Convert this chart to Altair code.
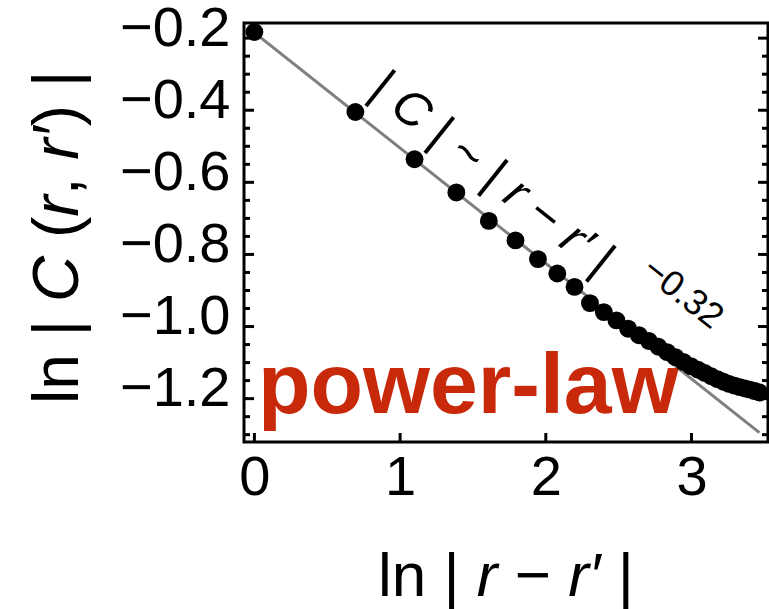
import math
import altair as alt
import pandas as pd

# ln|r - r'| for separations 1..32 and the measured ln|C(r, r')|
sep_ln = [0.000, 0.693, 1.099, 1.386, 1.609, 1.792, 1.946, 2.079, 2.197, 2.303,
          2.398, 2.485, 2.565, 2.639, 2.708, 2.773, 2.833, 2.890, 2.944, 2.996,
          3.045, 3.091, 3.135, 3.178, 3.219, 3.258, 3.296, 3.332, 3.367, 3.401,
          3.434, 3.466]
corr_ln = [-0.183, -0.405, -0.536, -0.628, -0.707, -0.761, -0.813, -0.853, -0.890, -0.935,
           -0.960, -0.983, -1.006, -1.024, -1.040, -1.056, -1.071, -1.085, -1.098, -1.110,
           -1.120, -1.129, -1.138, -1.146, -1.153, -1.159, -1.164, -1.168, -1.172, -1.175,
           -1.179, -1.183]

# power-law fit |C| ~ |r - r'|^-0.32
fit_exponent = -0.32
fit_intercept = -0.185
fit_range = [0.0, 3.466]

x_ticks = [0, 1, 2, 3]
y_ticks = [-1.2, -1.0, -0.8, -0.6, -0.4, -0.2]
y_minor = [-1.30, -1.25, -1.15, -1.10, -1.05, -0.95, -0.90, -0.85, -0.75, -0.70,
           -0.65, -0.55, -0.50, -0.45, -0.35, -0.30, -0.25]

x_domain = [-0.0714, 3.525]
y_domain = [-1.3203, -0.158]

W, H = 524, 419
PAD_L, PAD_T = 244, 23
FONT = "Liberation Sans"

xs = alt.Scale(domain=x_domain, nice=False, zero=False)
ys = alt.Scale(domain=y_domain, nice=False, zero=False)

axis_common = dict(
    labelFont=FONT, labelFontSize=56, labelColor="black", ticks=False,
    tickSize=0, domain=False, grid=False, labelOverlap=False, title=None)
x_axis = alt.Axis(values=x_ticks, format="d", labelPadding=8, **axis_common)
y_axis = alt.Axis(values=y_ticks, format=".1f", labelPadding=14, labelOffset=-10,
                  **axis_common)


def X(field="x"):
    return alt.X(f"{field}:Q", scale=xs, axis=x_axis)


def Y(field="y"):
    return alt.Y(f"{field}:Q", scale=ys, axis=y_axis)


points = pd.DataFrame({"x": sep_ln, "y": corr_ln})
fit = pd.DataFrame({"x": fit_range,
                    "y": [fit_intercept + fit_exponent * v for v in fit_range]})

fit_line = alt.Chart(fit).mark_line(color="#7f7f7f", strokeWidth=3).encode(x=X(), y=Y())
dots = alt.Chart(points).mark_circle(size=320, color="black", opacity=1).encode(x=X(), y=Y())

# inward frame ticks
maj_y = pd.DataFrame({"v": y_ticks})
min_y = pd.DataFrame({"v": y_minor})
maj_x = pd.DataFrame({"v": x_ticks})


def yticks(df, x0, x1):
    return alt.Chart(df).mark_rule(color="black", strokeWidth=3).encode(
        y=Y("v"), x=alt.value(x0), x2=alt.value(x1))


tick_layers = [
    yticks(maj_y, 0, 10), yticks(min_y, 0, 6),
    yticks(maj_y, W, W - 10), yticks(min_y, W, W - 6),
    alt.Chart(maj_x).mark_rule(color="black", strokeWidth=3).encode(
        x=X("v"), y=alt.value(H), y2=alt.value(H - 9)),
]

# advance widths (per 1000 em) of the sans-serif face, for laying out
# mixed upright / italic math text piece by piece
ADV = {"l": 222, "n": 556, " ": 278, "|": 260, "r": 333, "−": 584,
       "′": 190, "C": 722, "(": 333, ")": 333, ",": 278, "~": 584}


def width(txt, size):
    return sum(ADV.get(c, 556) for c in txt) * size / 1000.0


def math_text(pieces, x0, y0, angle, size, baseline):
    """pieces: list of (text, italic); x0, y0 in canvas pixels.
    Spaces at either end of a piece only advance the pen."""
    rad = math.radians(angle)
    dx, dy = math.cos(rad), math.sin(rad)
    layers, pos = [], 0.0
    for txt, italic in pieces:
        core = txt.strip(" ")
        lead = len(txt) - len(txt.lstrip(" "))
        trail = len(txt) - len(txt.rstrip(" "))
        pos += width(" " * lead, size)
        df = pd.DataFrame({"t": [core]})
        kw = dict(font=FONT, fontSize=size, color="black", align="left",
                  baseline=baseline, fontStyle="italic" if italic else "normal")
        if angle:
            kw["angle"] = angle % 360
        layers.append(alt.Chart(df).mark_text(**kw).encode(
            x=alt.value(x0 - PAD_L + pos * dx),
            y=alt.value(y0 - PAD_T + pos * dy),
            text="t:N"))
        pos += width(core, size) + width(" " * trail, size)
    return layers


x_title = math_text(
    [("ln | ", False), ("r", True), (" − ", False), ("r′", True), (" |", False)],
    378, 596, 0, 62, "alphabetic")
y_title = math_text(
    [("ln | ", False), ("C", True), (" (", False), ("r", True), (", ", False),
     ("r′", True), (") |", False)],
    78, 404, 270, 64, "alphabetic")

# |C| ~ |r - r'| along the fitted line
law_size = 49
law_pieces = [("| ", False), ("C", True), (" | ~ | ", False), ("r", True),
              (" − ", False), ("r′", True), (" |", False)]
law_len = sum(width(t, law_size) for t, _ in law_pieces)
law_angle = 38.5
law_cx, law_cy = 492, 174
law_x0 = law_cx - law_len / 2 * math.cos(math.radians(law_angle))
law_y0 = law_cy - law_len / 2 * math.sin(math.radians(law_angle))
law_text = math_text(law_pieces, law_x0, law_y0, law_angle, law_size, "middle")

expo = pd.DataFrame({"x": [2.94], "y": [-0.908], "t": ["−0.32"]})
expo_text = alt.Chart(expo).mark_text(
    font=FONT, fontSize=36, color="black", angle=38.5,
    align="center", baseline="middle").encode(x=X(), y=Y(), text="t:N")

regime = pd.DataFrame({"x": [0.025], "y": [-1.241], "t": ["power-law"]})
regime_text = alt.Chart(regime).mark_text(
    font=FONT, fontSize=86, fontWeight="bold", color="#C9290B",
    align="left", baseline="alphabetic").encode(x=X(), y=Y(), text="t:N")

chart = alt.layer(
    fit_line, regime_text, dots, expo_text, *law_text, *tick_layers,
    *x_title, *y_title
).properties(
    width=W, height=H,
    padding={"left": PAD_L, "top": PAD_T, "right": 1, "bottom": 167},
    autosize=alt.AutoSizeParams(type="none"),
).configure_view(
    stroke="black", strokeWidth=3
)

chart.save("out.html", embed_options={"renderer": "svg", "actions": False})
